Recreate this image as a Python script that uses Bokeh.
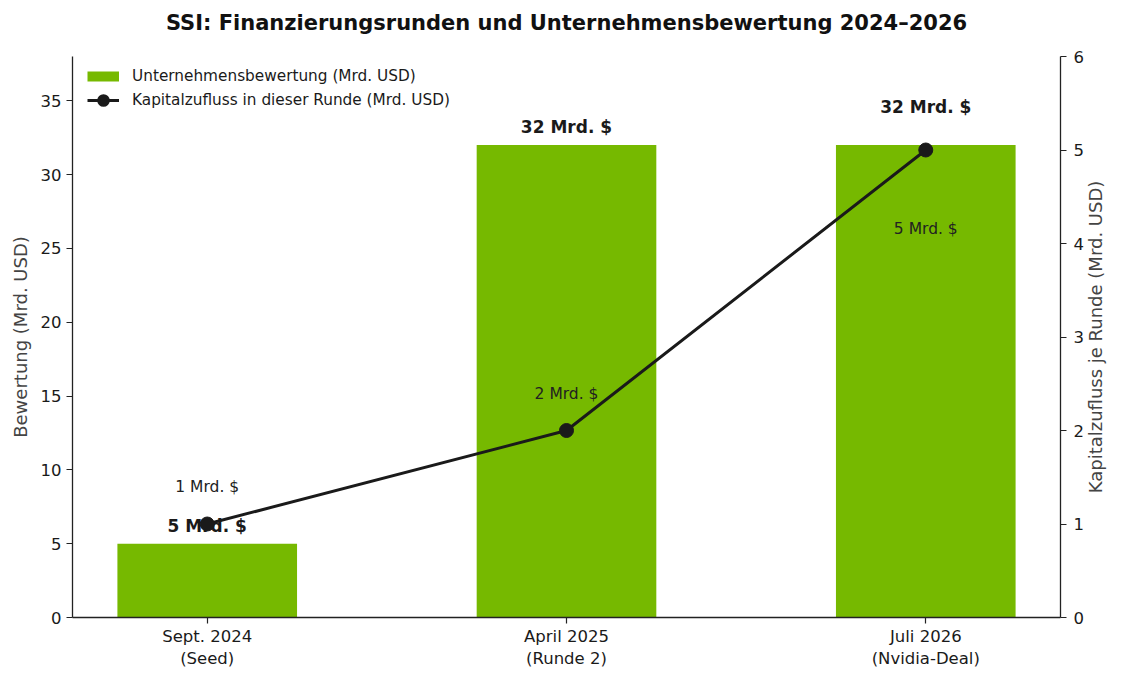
from bokeh.plotting import figure
from bokeh.models import Range1d, LinearAxis, FixedTicker, ColumnDataSource, Legend, LegendItem, Title, Label
from bokeh.core.properties import value
from bokeh.embed import file_html
from bokeh.resources import INLINE
import math

# ---- data ----
categories = ["Sept. 2024\n(Seed)", "April 2025\n(Runde 2)", "Juli 2026\n(Nvidia-Deal)"]
valuation = [5, 32, 32]          # Mrd. USD
capital = [1, 2, 5]              # Mrd. USD per round
bar_labels = ["5 Mrd. $", "32 Mrd. $", "32 Mrd. $"]
line_labels = ["1 Mrd. $", "2 Mrd. $", "5 Mrd. $"]
left_ticks = [0, 5, 10, 15, 20, 25, 30, 35]
right_ticks = [0, 1, 2, 3, 4, 5, 6]

FONT = "DejaVu Sans"
GREEN = "#76B900"
DARK = "#1a1a1a"

xs = list(range(len(categories)))
LEFT_MAX, RIGHT_MAX = 38, 6
FRAME_W, FRAME_H = 988, 561

p = figure(
    frame_width=FRAME_W, frame_height=FRAME_H,
    x_range=Range1d(-0.375, len(categories) - 1 + 0.375),
    y_range=Range1d(0, LEFT_MAX),
    output_backend="svg", toolbar_location=None,
    min_border_left=72, min_border_right=64, min_border_top=0, min_border_bottom=60,
)
p.extra_y_ranges = {"cap": Range1d(0, RIGHT_MAX)}
p.outline_line_color = None
p.grid.visible = False
p.background_fill_color = "white"

p.title.text = "SSI: Finanzierungsrunden und Unternehmensbewertung 2024–2026"
p.title.text_font = FONT
p.title.text_font_size = "21px"
p.title.text_font_style = "bold"
p.title.text_color = "#111111"
p.title.align = "center"
p.title.standoff = 16
# spacer between title and plot area
p.add_layout(Title(text=" ", text_font_size="1px", standoff=11), "above")

def style_axis(ax, label_color="#444444"):
    ax.axis_line_color = "#222222"
    ax.axis_line_width = 1.3
    ax.major_tick_line_color = "#222222"
    ax.major_tick_line_width = 1.2
    ax.major_tick_out = 6
    ax.major_tick_in = 0
    ax.minor_tick_line_color = None
    ax.major_label_text_font = FONT
    ax.major_label_text_font_size = "16.5px"
    ax.major_label_text_color = "#1a1a1a"
    ax.axis_label_text_font = FONT
    ax.axis_label_text_font_size = "18px"
    ax.axis_label_text_font_style = "normal"
    ax.axis_label_text_color = label_color

# bottom axis
xa = p.xaxis[0]
style_axis(xa)
xa.ticker = FixedTicker(ticks=xs)
xa.major_label_overrides = {i: c for i, c in zip(xs, categories)}
xa.major_label_standoff = 3

# left axis
ya = p.yaxis[0]
style_axis(ya)
ya.ticker = FixedTicker(ticks=left_ticks)
ya.axis_label = "Bewertung (Mrd. USD)"
ya.axis_label_standoff = 7
ya.major_label_standoff = 5

# right axis (its title is drawn as a label reading bottom-to-top)
ra = LinearAxis(y_range_name="cap", ticker=FixedTicker(ticks=right_ticks))
style_axis(ra)
ra.major_label_standoff = 7
p.add_layout(ra, "right")
p.add_layout(Label(x=9, y=FRAME_H / 2, x_units="screen", y_units="screen",
                   text="Kapitalzufluss je Runde (Mrd. USD)", angle=math.pi / 2,
                   text_font=FONT, text_font_size="18px", text_color="#444444",
                   text_align="center", text_baseline="middle"), "right")

# bars
bsrc = ColumnDataSource(dict(x=xs, top=valuation))
p.vbar(x="x", top="top", width=0.5, source=bsrc, fill_color=GREEN, line_color=None)

# line with markers
lsrc = ColumnDataSource(dict(x=xs, y=capital))
p.line(x="x", y="y", source=lsrc, y_range_name="cap", line_color=DARK, line_width=3)
p.scatter(x="x", y="y", source=lsrc, y_range_name="cap", size=14,
          fill_color=DARK, line_color=DARK)

# bar value labels (raised when the capital marker sits right on the bar top)
px_left = FRAME_H / LEFT_MAX
px_right = FRAME_H / RIGHT_MAX
bar_off = []
for v, c in zip(valuation, capital):
    gap = abs(v * px_left - c * px_right)
    bar_off.append(-38 if gap < 10 else -18)
p.text(x=xs, y=valuation, text=bar_labels, y_offset=bar_off,
       text_font=value(FONT), text_font_size="17px", text_font_style="bold",
       text_color=DARK, text_align="center", text_baseline="middle")

# capital labels (above the marker, below it when near the top)
line_off = [79 if c > 0.75 * RIGHT_MAX else -37 for c in capital]
p.text(x=xs, y=capital, text=line_labels, y_offset=line_off, y_range_name="cap",
       text_font=value(FONT), text_font_size="15.5px",
       text_color="#222222", text_align="center", text_baseline="middle")

# legend (dummy renderers for the handles)
nan = float("nan")
dsrc = ColumnDataSource(dict(x=[nan], y=[nan]))
leg_bar = p.line(x="x", y="y", source=dsrc, line_color=GREEN, line_width=10)
leg_line = p.line(x="x", y="y", source=dsrc, line_color=DARK, line_width=3)
leg_dot = p.scatter(x="x", y="y", source=dsrc, size=14, fill_color=DARK, line_color=DARK, line_width=3)
legend = Legend(items=[
    LegendItem(label="Unternehmensbewertung (Mrd. USD)", renderers=[leg_bar]),
    LegendItem(label="Kapitalzufluss in dieser Runde (Mrd. USD)", renderers=[leg_line, leg_dot]),
], location=(15, FRAME_H - 56))
legend.label_text_font = FONT
legend.label_text_font_size = "15.3px"
legend.label_text_color = "#1a1a1a"
legend.glyph_width = 32
legend.glyph_height = 24
legend.label_height = 24
legend.spacing = 0
legend.label_standoff = 13
legend.margin = 0
legend.padding = 0
legend.border_line_color = None
legend.background_fill_alpha = 0
p.add_layout(legend, "center")

open("out.html", "w").write(file_html(p, INLINE))
